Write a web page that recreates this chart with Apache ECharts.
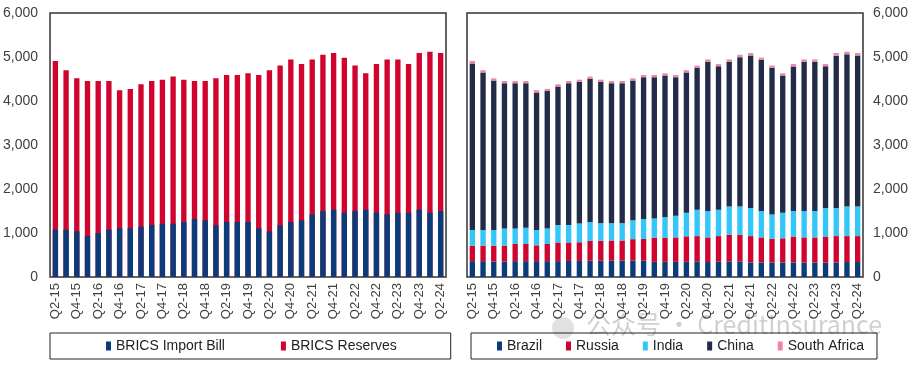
<!DOCTYPE html>
<html>
<head>
<meta charset="utf-8">
<script src="https://cdn.jsdelivr.net/npm/echarts@6/dist/echarts.min.js"></script>
<style>
html,body{margin:0;padding:0;background:#fff;}
#c{width:917px;height:366px;}
</style>
</head>
<body>
<div id="c"></div>
<script>
// Quarters Q2-15 .. Q2-24
const categories = ["Q2-15","Q3-15","Q4-15","Q1-16","Q2-16","Q3-16","Q4-16","Q1-17","Q2-17","Q3-17","Q4-17","Q1-18","Q2-18","Q3-18","Q4-18","Q1-19","Q2-19","Q3-19","Q4-19","Q1-20","Q2-20","Q3-20","Q4-20","Q1-21","Q2-21","Q3-21","Q4-21","Q1-22","Q2-22","Q3-22","Q4-22","Q1-23","Q2-23","Q3-23","Q4-23","Q1-24","Q2-24"];

// Left panel (USD bn)
const importBill = [1076,1076,1038,932,1000,1076,1106,1106,1144,1182,1212,1212,1250,1318,1288,1174,1250,1250,1250,1106,1038,1174,1250,1288,1424,1500,1530,1462,1500,1530,1462,1424,1462,1462,1530,1462,1500];
const bricsReserves = [4910,4700,4515,4455,4455,4455,4245,4275,4380,4455,4485,4555,4485,4455,4455,4515,4590,4590,4630,4590,4700,4805,4945,4840,4945,5050,5090,4985,4805,4630,4840,4945,4945,4840,5090,5120,5090];

// Right panel (USD bn)
const brazil = [360,360,350,350,360,360,360,360,360,365,365,370,370,370,375,375,370,345,345,345,345,355,340,355,355,355,330,330,330,330,330,330,330,330,330,340,340];
const russia = [352,352,362,362,390,390,360,390,425,420,425,450,455,460,455,485,495,550,550,555,580,575,560,575,605,605,600,570,540,550,590,570,570,590,600,590,590];
const india = [358,358,358,393,355,370,350,350,395,395,425,430,395,390,390,430,455,435,461,494,537,600,600,600,640,640,638,600,550,582,580,600,600,640,630,670,670];
const china = [3780,3580,3395,3300,3300,3285,3125,3125,3150,3225,3220,3250,3215,3185,3185,3175,3220,3210,3224,3146,3188,3220,3390,3260,3290,3395,3467,3435,3335,3118,3285,3390,3390,3230,3470,3460,3435];
const southAfrica = [60,50,50,50,50,50,50,50,50,50,50,55,50,50,50,50,50,50,50,50,50,55,55,50,55,55,55,50,50,50,55,55,55,50,60,60,55];

const yTicks = {min:0, max:6000, interval:1000};

const C = {navy:'#0b3b78', red:'#d0052f', cyan:'#33c6f7', dark:'#222c48', pink:'#ee87a6'};
const txt = '#404040';
const font = 'Arial, "Liberation Sans", sans-serif';

const chart = echarts.init(document.getElementById('c'), null, {renderer:'canvas'});

function xAxis(gi){
  return {
    type:'category', gridIndex:gi, data:categories,
    axisLine:{show:false}, axisTick:{show:false},
    axisLabel:{rotate:90, interval:1, color:txt, fontSize:13, fontFamily:font, margin:6}
  };
}
function yAxis(gi,pos){
  return {
    type:'value', gridIndex:gi, position:pos, min:yTicks.min, max:yTicks.max, interval:yTicks.interval,
    axisLine:{show:false}, axisTick:{show:false}, splitLine:{show:false},
    axisLabel:{color:txt, fontSize:14, fontFamily:font, margin:pos==='left'?12:10,
      formatter:v=>v.toLocaleString('en-US')}
  };
}

const barCommon = {barCategoryGap:'50%'};

chart.setOption({
  animation:false,
  backgroundColor:'#fff',
  grid:[
    {left:49, right:471, top:13, bottom:89, show:true, borderColor:'#333', borderWidth:1.5, backgroundColor:'transparent'},
    {left:467, right:54, top:13, bottom:89, show:true, borderColor:'#333', borderWidth:1.5, backgroundColor:'transparent'}
  ],
  xAxis:[xAxis(0), xAxis(1)],
  yAxis:[yAxis(0,'left'), yAxis(1,'right')],
  legend:[
    {data:['BRICS Import Bill','BRICS Reserves'], left:50, top:333, orient:'horizontal',
     borderColor:'#222', borderWidth:1, borderRadius:0, padding:[6,54,6,56],
     itemWidth:5, itemHeight:9, itemGap:56, icon:'rect',
     textStyle:{color:'#222', fontSize:14, fontFamily:font}},
    {data:['Brazil','Russia','India','China','South Africa'], left:471, top:333, orient:'horizontal',
     borderColor:'#222', borderWidth:1, borderRadius:0, padding:[6,13,6,26],
     itemWidth:5, itemHeight:9, itemGap:24, icon:'rect',
     textStyle:{color:'#222', fontSize:14, fontFamily:font}}
  ],
  graphic:[
    {type:'circle', silent:true, shape:{cx:563, cy:328, r:11}, style:{fill:'rgba(170,170,170,0.35)'}},
    {type:'text', left:586, top:312, silent:true,
     style:{text:'公众号 · CreditInsurance', fill:'rgba(150,150,150,0.45)', fontSize:25, fontFamily:'"Noto Sans CJK SC", "Noto Sans", sans-serif'}}
  ],
  series:[
    Object.assign({name:'BRICS Reserves', type:'bar', xAxisIndex:0, yAxisIndex:0, data:bricsReserves, itemStyle:{color:C.red}, barGap:'-100%'}, barCommon),
    Object.assign({name:'BRICS Import Bill', type:'bar', xAxisIndex:0, yAxisIndex:0, data:importBill, itemStyle:{color:C.navy}, barGap:'-100%'}, barCommon),
    Object.assign({name:'Brazil', type:'bar', stack:'r', xAxisIndex:1, yAxisIndex:1, data:brazil, itemStyle:{color:C.navy}}, barCommon),
    Object.assign({name:'Russia', type:'bar', stack:'r', xAxisIndex:1, yAxisIndex:1, data:russia, itemStyle:{color:C.red}}, barCommon),
    Object.assign({name:'India', type:'bar', stack:'r', xAxisIndex:1, yAxisIndex:1, data:india, itemStyle:{color:C.cyan}}, barCommon),
    Object.assign({name:'China', type:'bar', stack:'r', xAxisIndex:1, yAxisIndex:1, data:china, itemStyle:{color:C.dark}}, barCommon),
    Object.assign({name:'South Africa', type:'bar', stack:'r', xAxisIndex:1, yAxisIndex:1, data:southAfrica, itemStyle:{color:C.pink}}, barCommon)
  ]
});
</script>
</body>
</html>
